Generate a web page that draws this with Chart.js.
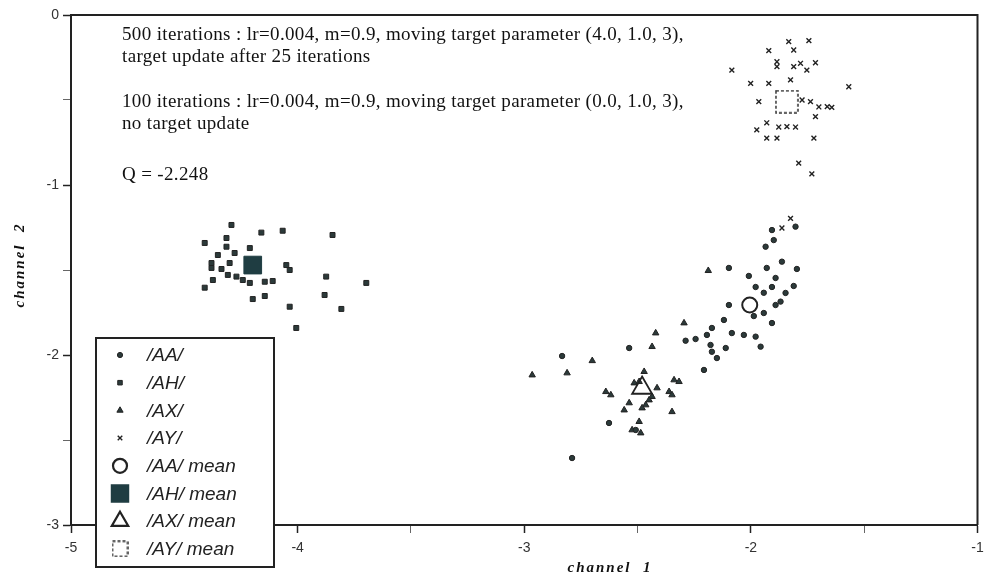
<!DOCTYPE html>
<html><head><meta charset="utf-8">
<script src="https://cdn.jsdelivr.net/npm/chart.js@4/dist/chart.umd.min.js"></script>
<style>html,body{margin:0;padding:0;background:#fff;}canvas{display:block;}</style>
</head><body>
<canvas id="c" width="991" height="579"></canvas>
<script>
// ---- data (channel 1, channel 2) ----
const AA = [[-1.803,-1.245],[-1.907,-1.265],[-1.899,-1.324],[-1.935,-1.363],[-1.863,-1.451],[-1.797,-1.494],
  [-2.097,-1.488],[-1.930,-1.488],[-2.009,-1.535],[-1.891,-1.547],[-1.979,-1.600],[-1.943,-1.634],[-1.907,-1.600],
  [-1.811,-1.594],[-1.847,-1.635],[-1.869,-1.686],[-1.891,-1.706],[-2.097,-1.706],[-1.943,-1.753],[-1.987,-1.771],
  [-1.907,-1.812],[-2.119,-1.794],[-2.172,-1.841],[-2.194,-1.882],[-2.084,-1.871],[-2.031,-1.882],[-1.979,-1.892],
  [-2.288,-1.916],[-2.244,-1.906],[-2.178,-1.941],[-2.172,-1.981],[-2.150,-2.018],[-2.111,-1.959],[-1.957,-1.951],
  [-2.537,-1.959],[-2.207,-2.088],[-2.833,-2.006],[-2.789,-2.606],[-2.626,-2.400],[-2.508,-2.441]];
const AH = [[-4.292,-1.235],[-4.160,-1.280],[-4.066,-1.269],[-3.846,-1.294],[-4.410,-1.341],[-4.314,-1.312],
  [-4.314,-1.363],[-4.211,-1.371],[-4.352,-1.412],[-4.278,-1.400],[-4.380,-1.459],[-4.380,-1.488],[-4.336,-1.494],
  [-4.300,-1.459],[-4.050,-1.471],[-4.035,-1.500],[-4.308,-1.529],[-4.270,-1.539],[-4.242,-1.559],[-4.211,-1.576],
  [-4.145,-1.569],[-4.110,-1.565],[-4.374,-1.559],[-4.410,-1.604],[-3.874,-1.539],[-3.697,-1.576],[-3.881,-1.647],
  [-4.145,-1.653],[-4.198,-1.671],[-4.035,-1.716],[-3.807,-1.729],[-4.006,-1.841]];
const AX = [[-2.188,-1.504],[-2.295,-1.812],[-2.420,-1.871],[-2.436,-1.951],[-2.700,-2.034],[-2.965,-2.118],
  [-2.811,-2.106],[-2.471,-2.098],[-2.515,-2.165],[-2.493,-2.157],[-2.640,-2.216],[-2.618,-2.235],[-2.414,-2.194],
  [-2.339,-2.147],[-2.317,-2.157],[-2.361,-2.216],[-2.348,-2.235],[-2.436,-2.245],[-2.449,-2.265],[-2.464,-2.294],
  [-2.480,-2.312],[-2.537,-2.282],[-2.559,-2.324],[-2.348,-2.334],[-2.493,-2.392],[-2.524,-2.441],[-2.486,-2.459]];
const AY = [[-1.833,-0.157],[-1.744,-0.151],[-1.811,-0.206],[-1.921,-0.210],[-1.885,-0.275],[-1.885,-0.304],
  [-1.811,-0.304],[-1.781,-0.284],[-1.753,-0.324],[-1.715,-0.281],[-2.084,-0.324],[-2.001,-0.402],[-1.921,-0.402],
  [-1.825,-0.382],[-1.568,-0.422],[-1.965,-0.510],[-1.774,-0.500],[-1.737,-0.510],[-1.700,-0.541],[-1.663,-0.539],
  [-1.643,-0.543],[-1.715,-0.598],[-1.974,-0.676],[-1.930,-0.634],[-1.877,-0.659],[-1.841,-0.657],[-1.803,-0.659],
  [-1.930,-0.724],[-1.885,-0.724],[-1.722,-0.724],[-1.789,-0.871],[-1.731,-0.935],[-1.825,-1.196],[-1.863,-1.253]];
const AA_mean = [[-2.005,-1.706]];
const AH_mean = [[-4.198,-1.471]];
const AX_mean = [[-2.480,-2.194]];
const AY_mean = [[-1.841,-0.510]];
const seriesLabels = ['/AA/','/AH/','/AX/','/AY/','/AA/ mean','/AH/ mean','/AX/ mean','/AY/ mean'];
const xTickValues = [-5,-4,-3,-2,-1];
const yTickValues = [0,-1,-2,-3];
const notes = [
  '500 iterations : lr=0.004, m=0.9, moving target parameter (4.0, 1.0, 3),',
  'target update after 25 iterations',
  '100 iterations : lr=0.004, m=0.9, moving target parameter (0.0, 1.0, 3),',
  'no target update',
  'Q = -2.248'
];

const INK = '#2b3a3a';
function dashedSquare(size){
  const c = document.createElement('canvas');
  c.width = size; c.height = size;
  const g = c.getContext('2d');
  g.strokeStyle = '#333'; g.lineWidth = 1.5; g.setLineDash([3,2]);
  g.strokeRect(1,1,size-2,size-2);
  return c;
}
const aySq = dashedSquare(24);
const aySqLegend = dashedSquare(17);
const toPts = a => a.map(p => ({x:p[0], y:p[1]}));

const styles = [
  {pointStyle:'circle', radius:2.7, bw:1, fill:INK, lr:2.6},
  {pointStyle:'rect', radius:3.5, bw:1, fill:INK, lr:3.2},
  {pointStyle:'triangle', radius:3.7, bw:1, fill:INK, lr:3.6},
  {pointStyle:'crossRot', radius:3.4, bw:1.4, fill:INK, lr:3.2},
  {pointStyle:'circle', radius:7.5, bw:2, fill:'rgba(0,0,0,0)', lr:7},
  {pointStyle:'rect', radius:12.5, bw:1, fill:'#1f3d42', lr:11.5},
  {pointStyle:'triangle', radius:11.5, bw:1.8, fill:'rgba(0,0,0,0)', lr:9.5},
  {pointStyle:aySq, radius:12, bw:1, fill:'rgba(0,0,0,0)', lr:8, legendImg:aySqLegend}
];
const seriesData = [AA, AH, AX, AY, AA_mean, AH_mean, AX_mean, AY_mean];

const datasets = seriesData.map((d,i) => ({
  label: seriesLabels[i],
  data: toPts(d),
  pointStyle: styles[i].pointStyle,
  pointRadius: styles[i].radius,
  pointHoverRadius: styles[i].radius,
  pointBorderWidth: styles[i].bw,
  pointBackgroundColor: styles[i].fill,
  pointBorderColor: i === 5 ? '#1f3d42' : '#222',
  showLine: false,
  order: i >= 4 ? 0 : 1
}));

const isMajor = v => Math.abs(v - Math.round(v)) < 1e-9;

const decor = {
  id: 'decor',
  afterDraw(chart){
    const {ctx, chartArea: a} = chart;
    ctx.save();
    // top and right frame
    ctx.strokeStyle = '#222'; ctx.lineWidth = 2;
    ctx.beginPath(); ctx.moveTo(a.left, a.top); ctx.lineTo(a.right, a.top); ctx.lineTo(a.right, a.bottom); ctx.stroke();
    // notes
    ctx.fillStyle = '#111';
    ctx.font = '19px "Liberation Serif", serif';
    try { ctx.letterSpacing = '0.35px'; } catch(e) {}
    ctx.textBaseline = 'middle'; ctx.textAlign = 'left';
    const ys = [35, 57, 102, 124, 175];
    notes.forEach((t,i) => ctx.fillText(t, 122, ys[i]));
    // axis titles
    ctx.font = 'italic bold 15px "Liberation Serif", serif';
    ctx.textAlign = 'center';
    try { ctx.letterSpacing = '2px'; } catch(e) {}
    ctx.fillText('channel  1', 610, 568);
    ctx.save();
    ctx.translate(20, 265); ctx.rotate(-Math.PI/2);
    ctx.fillText('channel  2', 0, 0);
    ctx.restore();
    try { ctx.letterSpacing = '0px'; } catch(e) {}
    // legend box
    const L = 96, T = 338, W = 178, H = 229;
    ctx.fillStyle = '#fff'; ctx.fillRect(L, T, W, H);
    ctx.lineWidth = 2; ctx.strokeStyle = '#222'; ctx.strokeRect(L, T, W, H);
    ctx.font = 'italic 19px "Liberation Sans", Arial, sans-serif';
    ctx.textAlign = 'left';
    chart.data.datasets.forEach((ds, i) => {
      const y = 355 + i * 27.7;
      const s = styles[i];
      if (s.legendImg) {
        ctx.drawImage(s.legendImg, 120 - s.legendImg.width/2, y - s.legendImg.height/2);
      } else {
        ctx.fillStyle = ds.pointBackgroundColor;
        ctx.strokeStyle = ds.pointBorderColor;
        ctx.lineWidth = i >= 4 ? 2.2 : s.bw;
        Chart.helpers.drawPoint(ctx, {pointStyle: s.pointStyle, radius: s.lr, borderWidth: ctx.lineWidth, rotation: 0}, 120, y);
      }
      ctx.fillStyle = '#222';
      ctx.fillText(ds.label, 147, y + 1);
    });
    ctx.restore();
  }
};

new Chart(document.getElementById('c'), {
  type: 'scatter',
  data: { datasets },
  plugins: [decor],
  options: {
    responsive: false,
    animation: false,
    events: [],
    layout: { padding: { top: 15, right: 12, left: 0, bottom: 0 } },
    plugins: { legend: { display: false }, tooltip: { enabled: false } },
    scales: {
      x: {
        type: 'linear', min: xTickValues[0], max: xTickValues[xTickValues.length-1],
        afterFit: s => { s.height = 54; },
        ticks: { stepSize: 0.5, autoSkip: false, maxRotation: 0, padding: 7, color: '#333',
          font: { family: '"Liberation Sans", Arial, sans-serif', size: 14 },
          callback: v => (isMajor(v) && xTickValues.includes(Math.round(v))) ? String(Math.round(v)) : '' },
        grid: { drawOnChartArea: false, drawTicks: true, tickLength: 8,
          tickColor: c => isMajor(c.tick.value) ? '#222' : '#666',
          tickWidth: c => isMajor(c.tick.value) ? 1.5 : 1 },
        border: { display: true, color: '#222', width: 2 }
      },
      y: {
        type: 'linear', min: yTickValues[yTickValues.length-1], max: yTickValues[0],
        afterFit: s => { s.width = 71; },
        ticks: { stepSize: 0.5, autoSkip: false, padding: 4, color: '#333',
          font: { family: '"Liberation Sans", Arial, sans-serif', size: 14 },
          callback: v => (isMajor(v) && yTickValues.includes(Math.round(v))) ? String(Math.round(v) === 0 ? 0 : Math.round(v)) : '' },
        grid: { drawOnChartArea: false, drawTicks: true, tickLength: 8,
          tickColor: c => isMajor(c.tick.value) ? '#222' : '#666',
          tickWidth: c => isMajor(c.tick.value) ? 1.5 : 1 },
        border: { display: true, color: '#222', width: 2 }
      }
    }
  }
});
</script>
</body></html>
